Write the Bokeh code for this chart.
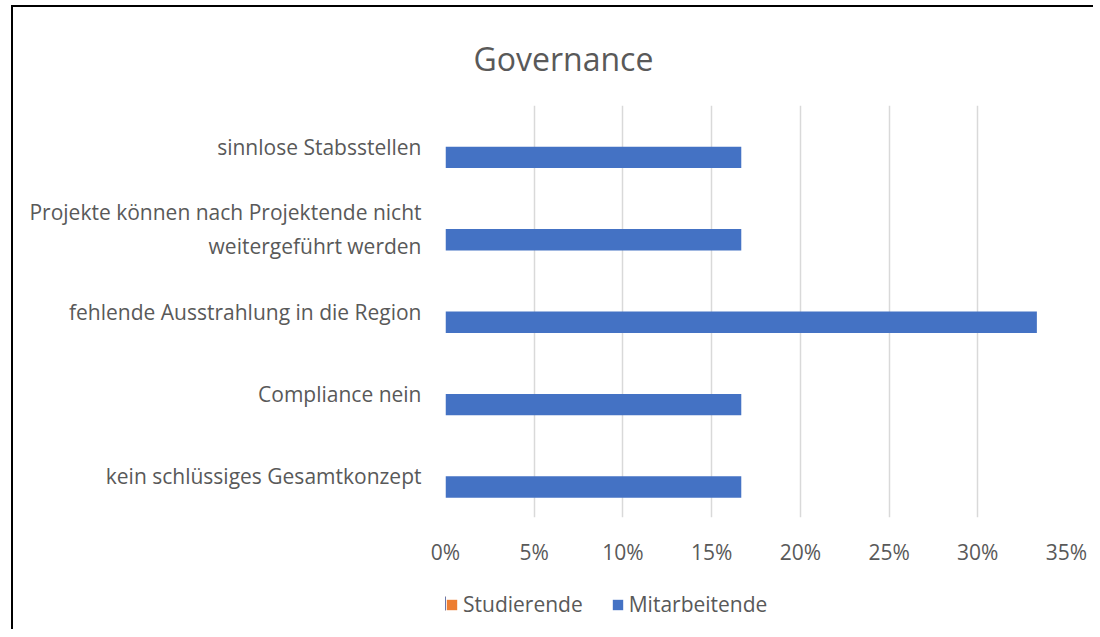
from bokeh.plotting import figure
from bokeh.layouts import column
from bokeh.models import (ColumnDataSource, FactorRange, Range1d, NumeralTickFormatter,
                          FixedTicker, Legend, LegendItem, Title)
from bokeh.transform import dodge
from bokeh.embed import file_html
from bokeh.resources import INLINE

categories = [
    "kein schlüssiges Gesamtkonzept",
    "Compliance nein",
    "fehlende Ausstrahlung in die Region",
    "Projekte können nach Projektende nicht\nweitergeführt werden",
    "sinnlose Stabsstellen",
]
studierende = [0.0, 0.0, 0.0, 0.0, 0.0]
mitarbeitende = [0.1667, 0.1667, 0.3333, 0.1667, 0.1667]
x_ticks = [0.0, 0.05, 0.10, 0.15, 0.20, 0.25, 0.30, 0.35]
series_names = ["Studierende", "Mitarbeitende"]
series_colors = ["#ED7D31", "#4472C4"]

FONT = "Open Sans"
GREY = "#595959"
FS = "21px"

src = ColumnDataSource(dict(cat=categories, stud=studierende, mit=mitarbeitende))

p = figure(width=1080, height=570, output_backend="svg", toolbar_location=None,
           y_range=FactorRange(factors=categories), x_range=Range1d(0, 0.35),
           min_border_left=432, min_border_right=27, min_border_top=98, min_border_bottom=60,
           outline_line_color=None)

bar_h = 0.26
p.hbar(y=dodge("cat", bar_h / 2, range=p.y_range), left=0, right="stud", height=bar_h,
       source=src, fill_color=series_colors[0], line_color=None)
p.hbar(y=dodge("cat", -bar_h / 2, range=p.y_range), left=0, right="mit", height=bar_h,
       source=src, fill_color=series_colors[1], line_color=None)

# x axis
p.xaxis.ticker = FixedTicker(ticks=x_ticks)
p.xaxis.formatter = NumeralTickFormatter(format="0%")
p.xaxis.axis_line_color = None
p.xaxis.major_tick_line_color = None
p.xaxis.minor_tick_line_color = None
p.xaxis.major_tick_out = 0
p.xaxis.major_tick_in = 0
p.xaxis.major_label_standoff = 20
p.xaxis.major_label_text_font = FONT
p.xaxis.major_label_text_font_size = FS
p.xaxis.major_label_text_color = GREY

# y axis
p.yaxis.axis_line_color = None
p.yaxis.major_tick_line_color = None
p.yaxis.minor_tick_line_color = None
p.yaxis.major_tick_out = 0
p.yaxis.major_tick_in = 0
p.yaxis.major_label_standoff = 24
p.yaxis.major_label_text_font = FONT
p.yaxis.major_label_text_font_size = FS
p.yaxis.major_label_text_color = GREY

p.ygrid.grid_line_color = None
p.xgrid.grid_line_color = "#D9D9D9"
p.xgrid.grid_line_width = 1.5
p.xgrid.ticker = FixedTicker(ticks=x_ticks)

# title
t = Title(text="Governance", align="left", offset=28, standoff=52,
          text_font=FONT, text_font_size="32px", text_font_style="normal", text_color=GREY)
p.add_layout(t, "above")

# legend row (separate small figure below the chart); its bars fall outside its x range
leg_src = ColumnDataSource(dict(y=[0.5] * len(categories), stud=studierende, mit=mitarbeitende))
p2 = figure(width=1080, height=52, output_backend="svg", toolbar_location=None,
            x_range=Range1d(1, 2), y_range=Range1d(0, 1),
            x_axis_location=None, y_axis_location=None,
            min_border=0, outline_line_color=None)
p2.grid.visible = False
leg_r = [p2.hbar(y="y", left=0, right=col, height=bar_h, source=leg_src,
                 fill_color=c, line_color=None)
         for col, c in zip(["stud", "mit"], series_colors)]
legend = Legend(items=[LegendItem(label=n, renderers=[r]) for n, r in zip(series_names, leg_r)],
                location=(0, 11), orientation="horizontal",
                padding=0, margin=0, spacing=28, label_standoff=5,
                glyph_width=13, glyph_height=13,
                border_line_color=None, background_fill_alpha=0,
                label_text_font=FONT, label_text_font_size=FS, label_text_color=GREY)
p2.add_layout(legend, "center")

layout = column(p, p2, spacing=0,
                styles={"border-top": "2px solid #000", "border-left": "2px solid #000",
                        "margin-left": "11px", "margin-top": "5px"})

open("out.html", "w").write(file_html(layout, INLINE))
